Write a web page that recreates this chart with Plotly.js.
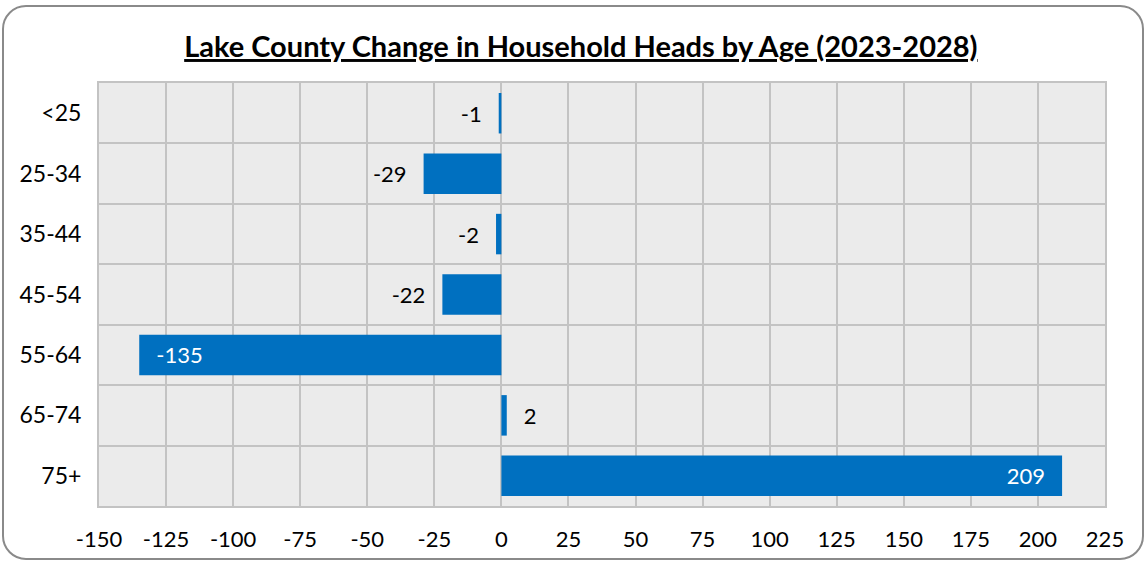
<!DOCTYPE html>
<html>
<head>
<meta charset="utf-8">
<script src="https://cdn.plot.ly/plotly-3.0.1.min.js"></script>
<style>
  body { margin: 0; background: #fff; }
  #chart { position: absolute; left: 0; top: 0; width: 1148px; height: 565px; }
  #frame {
    position: absolute; left: 2px; top: 5px; width: 1138px; height: 551px;
    border: 2px solid #8a8a8a; border-radius: 24px; pointer-events: none;
  }
</style>
</head>
<body>
<div id="chart"></div>
<div id="frame"></div>
<script>
// categories and change values
const ageGroups = ["<25", "25-34", "35-44", "45-54", "55-64", "65-74", "75+"];
const changeValues = [-1, -29, -2, -22, -135, 2, 209];
const xTicks = [-150, -125, -100, -75, -50, -25, 0, 25, 50, 75, 100, 125, 150, 175, 200, 225];

const font = "Lato, 'Open Sans', sans-serif";
const gridColor = "#c3c3c3";
const pad = "\u00a0\u00a0\u2009";

// big bars get the label inside, the rest outside
const positions = changeValues.map(v => Math.abs(v) > 100 ? "inside" : "outside");
const labels = changeValues.map((v, i) => {
  const inside = positions[i] === "inside";
  // padding on the side facing the bar end
  if ((v < 0) !== inside) return v + pad;
  return pad + v;
});

const trace = {
  type: "bar",
  orientation: "h",
  y: ageGroups,
  x: changeValues,
  text: labels,
  textposition: positions,
  insidetextanchor: "end",
  insidetextfont: {color: "#ffffff", size: 22, family: font},
  outsidetextfont: {color: "#000000", size: 22, family: font},
  cliponaxis: false,
  marker: {color: "#0070c0"},
  hoverinfo: "none"
};

const layout = {
  width: 1148,
  height: 565,
  margin: {l: 99, r: 43, t: 83, b: 59},
  paper_bgcolor: "rgba(0,0,0,0)",
  plot_bgcolor: "#ebebeb",
  font: {family: font, color: "#000", size: 22},
  title: {
    text: "<u><b>Lake County Change in Household Heads by Age (2023-2028)</b></u>",
    font: {family: font, size: 29, color: "#000"},
    xref: "container", x: 0.506, xanchor: "center",
    yref: "container", y: 0.917, yanchor: "middle"
  },
  bargap: 0.33,
  showlegend: false,
  xaxis: {
    range: [-150, 225],
    tickvals: xTicks,
    ticktext: xTicks.map(String),
    showgrid: true,
    gridcolor: gridColor,
    gridwidth: 2,
    zeroline: false,
    showline: true,
    linecolor: gridColor,
    linewidth: 2,
    mirror: true,
    ticks: "",
    ticklabelstandoff: 13,
    tickfont: {size: 22, family: font}
  },
  yaxis: {
    type: "category",
    autorange: "reversed",
    tickson: "boundaries",
    showgrid: true,
    gridcolor: gridColor,
    gridwidth: 2,
    showline: true,
    linecolor: gridColor,
    linewidth: 2,
    mirror: true,
    ticks: "",
    ticklabelstandoff: 11,
    tickfont: {size: 23, family: font}
  }
};

Plotly.newPlot("chart", [trace], layout, {displayModeBar: false, staticPlot: true});
</script>
</body>
</html>
